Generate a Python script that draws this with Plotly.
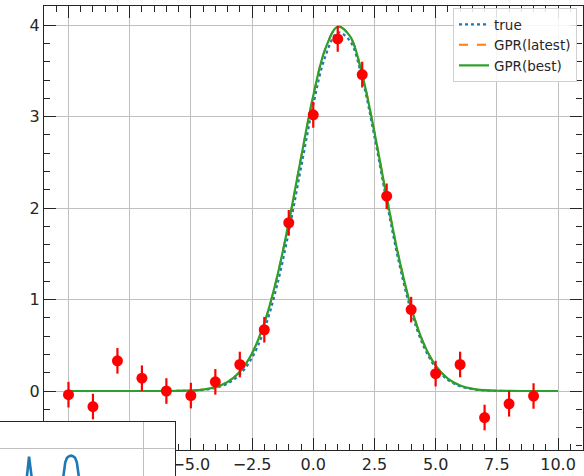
import plotly.graph_objects as go

# ---------------- data ----------------
obs_x = [-10, -9, -8, -7, -6, -5, -4, -3, -2, -1, 0, 1, 2, 3, 4, 5, 6, 7, 8, 9]
obs_y = [-0.04, -0.17, 0.33, 0.14, 0.00, -0.05, 0.10, 0.29, 0.67, 1.84,
         3.02, 3.85, 3.46, 2.13, 0.89, 0.19, 0.29, -0.29, -0.14, -0.055]
obs_err = [0.14] * 20

curve_x = [-10.0, -9.5, -9.0, -8.5, -8.0, -7.5, -7.0, -6.5, -6.0, -5.5,
           -5.0, -4.5, -4.0, -3.5, -3.0, -2.5, -2.0, -1.5, -1.0, -0.5,
           0.0, 0.5, 1.0, 1.5, 2.0, 2.5, 3.0, 3.5, 4.0, 4.5,
           5.0, 5.5, 6.0, 6.5, 7.0, 7.5, 8.0, 8.5, 9.0, 9.5, 10.0]
true_y = [0, 0, 0, 0, 0, 0, 0, 0, 0, 0.001,
          0.004, 0.013, 0.034, 0.082, 0.181, 0.364, 0.672, 1.131, 1.739, 2.441,
          3.130, 3.665, 3.920, 3.828, 3.415, 2.782, 2.069, 1.406, 0.872, 0.494,
          0.256, 0.121, 0.052, 0.021, 0.007, 0.002, 0, 0, 0, 0, 0]
gpr_best_y = [0, 0, 0, 0, 0, 0, 0, 0, 0, 0.002,
              0.006, 0.016, 0.042, 0.098, 0.210, 0.413, 0.742, 1.222, 1.844, 2.549,
              3.228, 3.746, 3.983, 3.880, 3.462, 2.831, 2.121, 1.456, 0.915, 0.527,
              0.278, 0.135, 0.060, 0.024, 0.009, 0.003, 0.001, 0, 0, 0, 0]
gpr_latest_y = list(gpr_best_y)

x_ticks = [-10, -7.5, -5, -2.5, 0, 2.5, 5, 7.5, 10]
x_tick_text = ["\u221210.0", "\u22127.5", "\u22125.0", "\u22122.5", "0.0", "2.5", "5.0", "7.5", "10.0"]
y_ticks = [0, 1, 2, 3, 4]

# inset (only its top part is visible)
inset_x = [-0.70, -0.668, -0.654, -0.640, -0.60, -0.50, -0.458, -0.447, -0.437,
           -0.425, -0.414, -0.403, -0.391, -0.381, -0.370, -0.30]
inset_y = [-3.0, -1.0, -0.29, -1.0, -3.0, -3.0, -1.0, -0.50, -0.33,
           -0.27, -0.255, -0.27, -0.33, -0.50, -1.0, -3.0]

# ---------------- figure ----------------
W, H = 584, 476
dark = "#262626"
grid = "#c0c0c0"
font = "DejaVu Sans"

fig = go.Figure()
fig.add_trace(go.Scatter(x=curve_x, y=true_y, mode="lines", name="true",
                         line=dict(color="#1f77b4", width=2.2, dash="dot", shape="spline")))
fig.add_trace(go.Scatter(x=curve_x, y=gpr_latest_y, mode="lines", name="GPR(latest)",
                         line=dict(color="#ff7f0e", width=2, dash="dash", shape="spline")))
fig.add_trace(go.Scatter(x=curve_x, y=gpr_best_y, mode="lines", name="GPR(best)",
                         line=dict(color="#2ca02c", width=2.2, shape="spline")))
fig.add_trace(go.Scatter(x=obs_x, y=obs_y, mode="markers", showlegend=False,
                         marker=dict(color="red", size=11, line=dict(width=0)),
                         error_y=dict(type="data", array=obs_err, color="red",
                                      thickness=2.2, width=0)))
fig.add_trace(go.Scatter(x=inset_x, y=inset_y, mode="lines", showlegend=False,
                         xaxis="x2", yaxis="y2",
                         line=dict(color="#1f77b4", width=2.6)))

axis_common = dict(
    ticks="inside", ticklen=12, tickwidth=1.4, tickcolor=dark,
    showline=True, linecolor=dark, linewidth=1.3, mirror="allticks",
    showgrid=True, gridcolor=grid, gridwidth=1.2, zeroline=False,
    tickfont=dict(family=font, size=16, color=dark),
)

fig.update_layout(
    width=W, height=H,
    margin=dict(l=0, r=0, t=0, b=0, autoexpand=False),
    paper_bgcolor="white", plot_bgcolor="white",
    font=dict(family=font, color=dark),
    xaxis=dict(domain=[44 / W, 582.5 / W], range=[-11, 11],
               tickvals=x_ticks, ticktext=x_tick_text,
               minor=dict(dtick=0.5, tick0=0, ticks="inside", ticklen=6,
                          tickwidth=1.1, tickcolor=dark, showgrid=False),
               anchor="y", **axis_common),
    yaxis=dict(domain=[(H - 450) / H, (H - 6) / H], range=[-0.645, 4.21],
               tickvals=y_ticks,
               minor=dict(dtick=0.2, tick0=0, ticks="inside", ticklen=6,
                          tickwidth=1.1, tickcolor=dark, showgrid=False),
               anchor="x", **axis_common),
    xaxis2=dict(domain=[0, 175 / W], range=[-0.82, 0.18], anchor="y2",
                side="top", showline=True, linecolor=dark, linewidth=1.3,
                tickvals=[0], showticklabels=False, ticks="",
                showgrid=True, gridcolor=grid, gridwidth=1.2, zeroline=False),
    yaxis2=dict(domain=[0, (H - 421.5) / H], range=[-1, 1], anchor="x2",
                side="right", showline=True, linecolor=dark, linewidth=1.3,
                tickvals=[0], showticklabels=False, ticks="",
                showgrid=True, gridcolor=grid, gridwidth=1.2, zeroline=False),
    legend=dict(x=577 / W, y=(H - 8) / H, xanchor="right", yanchor="top",
                bgcolor="rgba(255,255,255,0.85)", bordercolor="#d0d0d0", borderwidth=1,
                font=dict(family=font, size=13.5, color=dark),
                tracegroupgap=0, itemwidth=30),
    showlegend=True,
)

fig.write_html("out.html",
               config={"displayModeBar": False},
               post_script="document.body.style.margin='0';document.body.style.padding='0';"
                           "document.body.style.overflow='hidden';")
